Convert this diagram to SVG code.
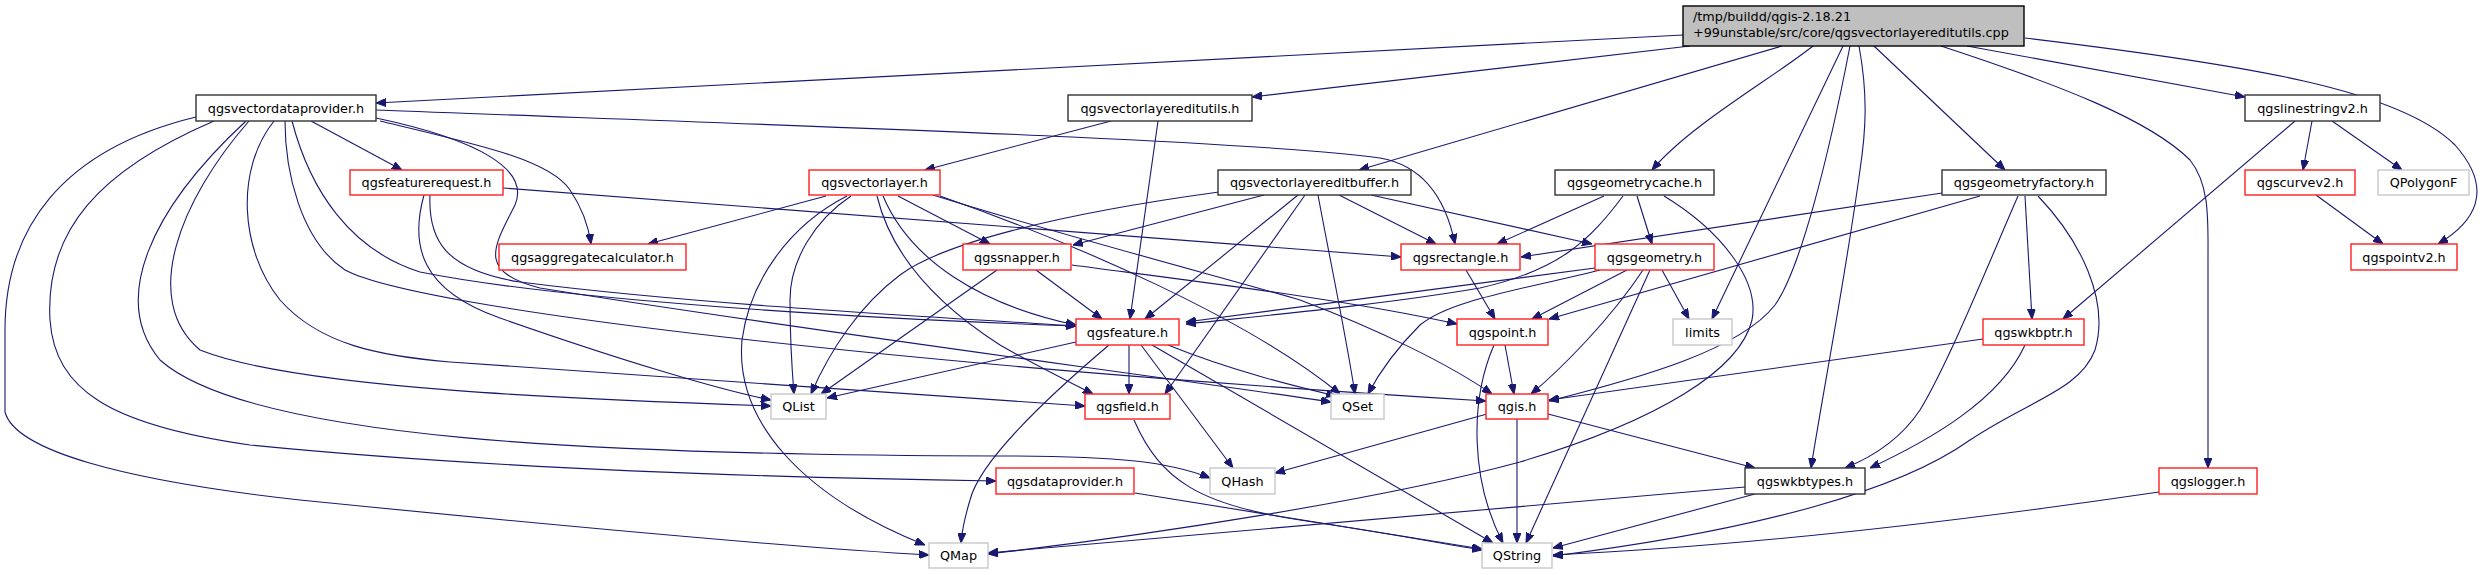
<svg xmlns="http://www.w3.org/2000/svg" width="2490" height="575" viewBox="0 0 2490 575">
<style>
.e{fill:none;stroke:#191970;stroke-width:1.1}
.n rect{fill:#fff;stroke-width:1.4}
.b rect{stroke:#333}
.r rect{stroke:#ff2020}
.g rect{stroke:#c8c8c8}
text{font-family:"DejaVu Sans","Liberation Sans",sans-serif;font-size:12.8px;fill:#000;text-anchor:middle}
</style>
<defs>
<marker id="ah" markerWidth="10" markerHeight="8" refX="10" refY="4" orient="auto" markerUnits="userSpaceOnUse"><path d="M0,0 L10,4 L0,8 z" fill="#191970" stroke="#191970" stroke-width="1"/></marker>
</defs>
<rect width="2490" height="575" fill="#fff"/>
<g id="edges">
<path class="e" marker-end="url(#ah)" d="M1683,35 L376,103"/>
<path class="e" marker-end="url(#ah)" d="M1690,46 L1252,97"/>
<path class="e" marker-end="url(#ah)" d="M1782,46 L1359,170"/>
<path class="e" marker-end="url(#ah)" d="M1813,46 C1770,80 1690,125 1652,170"/>
<path class="e" marker-end="url(#ah)" d="M1843,46 L1712,319"/>
<path class="e" marker-end="url(#ah)" d="M1850,46 C1828,160 1800,270 1775,305 C1740,350 1640,378 1549,401"/>
<path class="e" marker-end="url(#ah)" d="M1859,46 C1868,95 1866,130 1860,170 C1845,280 1825,380 1811,468"/>
<path class="e" marker-end="url(#ah)" d="M1874,46 L2005,170"/>
<path class="e" marker-end="url(#ah)" d="M1941,46 C2060,85 2150,120 2190,160 C2210,185 2208,220 2208,260 L2208,468"/>
<path class="e" marker-end="url(#ah)" d="M1967,46 L2245,97"/>
<path class="e" marker-end="url(#ah)" d="M2025,38 C2250,65 2400,90 2455,145 C2495,190 2475,222 2438,244"/>
<path class="e" marker-end="url(#ah)" d="M311,121 L402,170"/>
<path class="e" marker-end="url(#ah)" d="M380,121 C480,145 550,160 570,190 C585,212 589,230 591,244"/>
<path class="e" marker-end="url(#ah)" d="M376,110 C800,126 1250,140 1380,158 C1420,165 1445,195 1455,244"/>
<path class="e" marker-end="url(#ah)" d="M292,121 C310,190 350,250 420,272 C560,300 850,318 1076,326"/>
<path class="e" marker-end="url(#ah)" d="M376,118 C480,140 530,170 515,205 C495,245 475,272 540,288 C800,330 1150,375 1331,402"/>
<path class="e" marker-end="url(#ah)" d="M285,121 C285,170 300,240 345,270 C420,310 900,365 1486,401"/>
<path class="e" marker-end="url(#ah)" d="M274,121 C235,170 240,250 280,300 C320,345 380,356 450,362 C700,380 950,396 1085,406"/>
<path class="e" marker-end="url(#ah)" d="M249,121 C180,200 140,300 200,350 C300,390 600,400 771,406"/>
<path class="e" marker-end="url(#ah)" d="M246,121 C150,210 110,300 160,360 C250,440 600,455 1000,456 C1120,456 1170,462 1210,478"/>
<path class="e" marker-end="url(#ah)" d="M214,121 C100,170 45,230 50,320 C55,390 110,425 250,445 C500,470 800,478 996,481"/>
<path class="e" marker-end="url(#ah)" d="M196,117 C60,150 5,230 5,330 L5,412 C15,450 120,480 300,500 C600,530 800,548 929,555"/>
<path class="e" marker-end="url(#ah)" d="M503,188 L1401,257"/>
<path class="e" marker-end="url(#ah)" d="M430,195 C428,240 445,270 520,282 C700,305 950,318 1076,326"/>
<path class="e" marker-end="url(#ah)" d="M424,195 C410,245 420,290 500,318 C620,360 720,390 771,400"/>
<path class="e" marker-end="url(#ah)" d="M1111,121 L925,170"/>
<path class="e" marker-end="url(#ah)" d="M1158,121 L1130,319"/>
<path class="e" marker-end="url(#ah)" d="M2295,121 L2063,319"/>
<path class="e" marker-end="url(#ah)" d="M2312,121 L2303,170"/>
<path class="e" marker-end="url(#ah)" d="M2332,121 L2402,170"/>
<path class="e" marker-end="url(#ah)" d="M2316,195 L2383,244"/>
<path class="e" marker-end="url(#ah)" d="M826,196 L648,244"/>
<path class="e" marker-end="url(#ah)" d="M898,196 L990,244"/>
<path class="e" marker-end="url(#ah)" d="M883,196 C910,260 980,305 1076,325"/>
<path class="e" marker-end="url(#ah)" d="M877,196 C890,250 930,300 1000,345 C1040,368 1070,382 1093,394"/>
<path class="e" marker-end="url(#ah)" d="M851,196 C815,220 790,260 790,300 C790,340 792,370 794,394"/>
<path class="e" marker-end="url(#ah)" d="M847,196 C790,225 750,280 742,340 C735,420 800,495 925,545"/>
<path class="e" marker-end="url(#ah)" d="M940,196 C1080,245 1250,320 1340,394"/>
<path class="e" marker-end="url(#ah)" d="M933,195 C1050,232 1250,285 1300,300 C1380,330 1450,365 1492,394"/>
<path class="e" marker-end="url(#ah)" d="M1219,192 C1050,215 940,245 900,275 C860,305 830,350 811,394"/>
<path class="e" marker-end="url(#ah)" d="M1264,195 L1073,245"/>
<path class="e" marker-end="url(#ah)" d="M1298,195 L1145,319"/>
<path class="e" marker-end="url(#ah)" d="M1305,195 L1165,394"/>
<path class="e" marker-end="url(#ah)" d="M1318,195 C1330,260 1345,330 1355,394"/>
<path class="e" marker-end="url(#ah)" d="M1339,195 L1436,244"/>
<path class="e" marker-end="url(#ah)" d="M1371,195 L1592,244"/>
<path class="e" marker-end="url(#ah)" d="M1604,196 L1497,244"/>
<path class="e" marker-end="url(#ah)" d="M1637,196 L1652,244"/>
<path class="e" marker-end="url(#ah)" d="M1623,196 C1590,240 1560,270 1480,288 C1380,305 1260,316 1186,324"/>
<path class="e" marker-end="url(#ah)" d="M1664,196 C1720,230 1760,280 1752,320 C1740,370 1660,420 1520,462 C1380,500 1150,535 988,554"/>
<path class="e" marker-end="url(#ah)" d="M1942,193 L1521,257"/>
<path class="e" marker-end="url(#ah)" d="M1980,196 L1549,319"/>
<path class="e" marker-end="url(#ah)" d="M2018,196 C1990,260 1950,360 1920,410 C1900,440 1870,458 1845,468"/>
<path class="e" marker-end="url(#ah)" d="M2025,196 L2032,319"/>
<path class="e" marker-end="url(#ah)" d="M2038,196 C2080,240 2110,300 2095,350 C2080,390 2030,400 1970,440 C1900,490 1760,530 1553,556"/>
<path class="e" marker-end="url(#ah)" d="M1595,268 L1186,322"/>
<path class="e" marker-end="url(#ah)" d="M1627,270 L1532,319"/>
<path class="e" marker-end="url(#ah)" d="M1643,270 C1610,320 1560,370 1531,394"/>
<path class="e" marker-end="url(#ah)" d="M1650,270 L1526,543"/>
<path class="e" marker-end="url(#ah)" d="M1600,270 C1520,290 1450,300 1420,325 C1395,350 1378,375 1368,394"/>
<path class="e" marker-end="url(#ah)" d="M1662,270 L1689,319"/>
<path class="e" marker-end="url(#ah)" d="M1466,270 L1495,319"/>
<path class="e" marker-end="url(#ah)" d="M1036,270 L1102,319"/>
<path class="e" marker-end="url(#ah)" d="M997,270 L821,394"/>
<path class="e" marker-end="url(#ah)" d="M1072,265 C1200,282 1350,300 1457,324"/>
<path class="e" marker-end="url(#ah)" d="M1076,342 L827,398"/>
<path class="e" marker-end="url(#ah)" d="M1109,345 C1050,395 980,460 970,500 C964,520 962,530 961,543"/>
<path class="e" marker-end="url(#ah)" d="M1129,345 L1129,394"/>
<path class="e" marker-end="url(#ah)" d="M1141,345 L1233,468"/>
<path class="e" marker-end="url(#ah)" d="M1152,345 L1493,543"/>
<path class="e" marker-end="url(#ah)" d="M1168,345 C1230,370 1290,385 1336,396"/>
<path class="e" marker-end="url(#ah)" d="M1505,345 L1514,394"/>
<path class="e" marker-end="url(#ah)" d="M1494,345 C1470,400 1470,480 1503,543"/>
<path class="e" marker-end="url(#ah)" d="M1487,414 L1275,473"/>
<path class="e" marker-end="url(#ah)" d="M1517,419 L1517,543"/>
<path class="e" marker-end="url(#ah)" d="M1548,414 L1755,468"/>
<path class="e" marker-end="url(#ah)" d="M1983,339 L1549,400"/>
<path class="e" marker-end="url(#ah)" d="M2025,345 C2000,400 1930,440 1870,468"/>
<path class="e" marker-end="url(#ah)" d="M1745,487 L988,553"/>
<path class="e" marker-end="url(#ah)" d="M1755,494 L1553,548"/>
<path class="e" marker-end="url(#ah)" d="M2159,492 C1900,530 1700,548 1553,555"/>
<path class="e" marker-end="url(#ah)" d="M1135,493 L1482,549"/>
<path class="e" marker-end="url(#ah)" d="M1134,420 C1160,480 1200,505 1300,520 C1400,535 1450,545 1482,550"/>
</g>
<g id="main" class="n"><rect x="1683" y="6" width="341" height="40" style="fill:#bfbfbf;stroke:#000"/><text x="1693" y="21" style="text-anchor:start">/tmp/buildd/qgis-2.18.21</text><text x="1693" y="37" style="text-anchor:start">+99unstable/src/core/qgsvectorlayereditutils.cpp</text></g>
<g id="qgsvectordataprovider" class="n b"><rect x="196" y="95" width="180" height="26"/><text x="286" y="112.5">qgsvectordataprovider.h</text></g>
<g id="qgsvectorlayereditutils" class="n b"><rect x="1068" y="95" width="184" height="26"/><text x="1160" y="112.5">qgsvectorlayereditutils.h</text></g>
<g id="qgslinestringv2" class="n b"><rect x="2245" y="95" width="135" height="26"/><text x="2312.5" y="112.5">qgslinestringv2.h</text></g>
<g id="qgsfeaturerequest" class="n r"><rect x="350" y="170" width="153" height="25"/><text x="426.5" y="187">qgsfeaturerequest.h</text></g>
<g id="qgsvectorlayer" class="n r"><rect x="809" y="170" width="131" height="25"/><text x="874.5" y="187">qgsvectorlayer.h</text></g>
<g id="qgsvectorlayereditbuffer" class="n b"><rect x="1218" y="170" width="193" height="25"/><text x="1314.5" y="187">qgsvectorlayereditbuffer.h</text></g>
<g id="qgsgeometrycache" class="n b"><rect x="1555" y="170" width="159" height="25"/><text x="1634.5" y="187">qgsgeometrycache.h</text></g>
<g id="qgsgeometryfactory" class="n b"><rect x="1942" y="170" width="164" height="25"/><text x="2024" y="187">qgsgeometryfactory.h</text></g>
<g id="qgscurvev2" class="n r"><rect x="2245" y="170" width="110" height="25"/><text x="2300" y="187">qgscurvev2.h</text></g>
<g id="QPolygonF" class="n g"><rect x="2378" y="170" width="91" height="25"/><text x="2423.5" y="187">QPolygonF</text></g>
<g id="qgsaggregatecalculator" class="n r"><rect x="499" y="244" width="187" height="26"/><text x="592.5" y="261.5">qgsaggregatecalculator.h</text></g>
<g id="qgssnapper" class="n r"><rect x="963" y="244" width="108" height="26"/><text x="1017" y="261.5">qgssnapper.h</text></g>
<g id="qgsrectangle" class="n r"><rect x="1401" y="244" width="119" height="26"/><text x="1460.5" y="261.5">qgsrectangle.h</text></g>
<g id="qgsgeometry" class="n r"><rect x="1595" y="244" width="119" height="26"/><text x="1654.5" y="261.5">qgsgeometry.h</text></g>
<g id="qgspointv2" class="n r"><rect x="2351" y="244" width="106" height="26"/><text x="2404" y="261.5">qgspointv2.h</text></g>
<g id="qgsfeature" class="n r"><rect x="1076" y="319" width="103" height="26"/><text x="1127.5" y="336.5">qgsfeature.h</text></g>
<g id="qgspoint" class="n r"><rect x="1457" y="319" width="91" height="26"/><text x="1502.5" y="336.5">qgspoint.h</text></g>
<g id="limits" class="n g"><rect x="1673" y="319" width="59" height="26"/><text x="1702.5" y="336.5">limits</text></g>
<g id="qgswkbptr" class="n r"><rect x="1983" y="319" width="101" height="26"/><text x="2033.5" y="336.5">qgswkbptr.h</text></g>
<g id="QList" class="n g"><rect x="771" y="394" width="55" height="25"/><text x="798.5" y="411">QList</text></g>
<g id="qgsfield" class="n r"><rect x="1085" y="394" width="85" height="25"/><text x="1127.5" y="411">qgsfield.h</text></g>
<g id="QSet" class="n g"><rect x="1331" y="394" width="53" height="25"/><text x="1357.5" y="411">QSet</text></g>
<g id="qgis" class="n r"><rect x="1486" y="394" width="62" height="25"/><text x="1517" y="411">qgis.h</text></g>
<g id="qgsdataprovider" class="n r"><rect x="996" y="468" width="138" height="26"/><text x="1065" y="485.5">qgsdataprovider.h</text></g>
<g id="QHash" class="n g"><rect x="1210" y="468" width="65" height="26"/><text x="1242.5" y="485.5">QHash</text></g>
<g id="qgswkbtypes" class="n b"><rect x="1745" y="468" width="120" height="26"/><text x="1805" y="485.5">qgswkbtypes.h</text></g>
<g id="qgslogger" class="n r"><rect x="2159" y="468" width="98" height="26"/><text x="2208" y="485.5">qgslogger.h</text></g>
<g id="QMap" class="n g"><rect x="929" y="543" width="59" height="25"/><text x="958.5" y="560">QMap</text></g>
<g id="QString" class="n g"><rect x="1482" y="543" width="70" height="25"/><text x="1517" y="560">QString</text></g>
</svg>
